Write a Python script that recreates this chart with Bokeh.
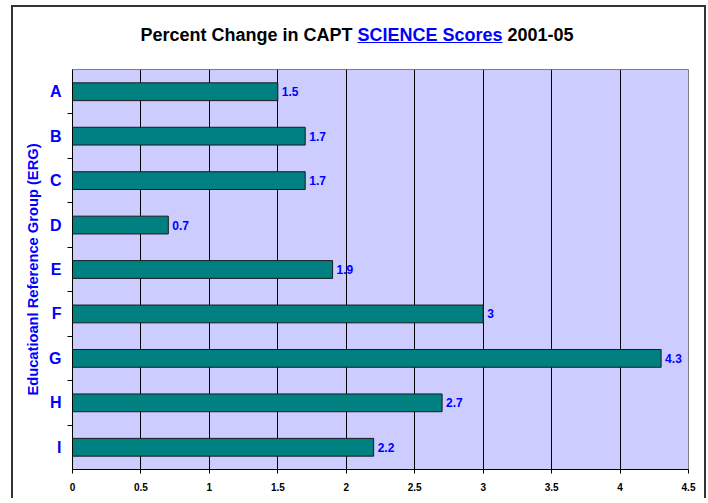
from bokeh.plotting import figure, ColumnDataSource
from bokeh.models import (Range1d, LinearAxis, FixedTicker, Div)
from bokeh.layouts import column
from bokeh.embed import file_html
from bokeh.resources import INLINE
from bokeh.core.properties import value

categories = ["A", "B", "C", "D", "E", "F", "G", "H", "I"]
values = [1.5, 1.7, 1.7, 0.7, 1.9, 3, 4.3, 2.7, 2.2]
x_ticks = [0, 0.5, 1, 1.5, 2, 2.5, 3, 3.5, 4, 4.5]
x_tick_labels = ["0", "0.5", "1", "1.5", "2", "2.5", "3", "3.5", "4", "4.5"]
title_parts = ["Percent Change in CAPT", "SCIENCE Scores", "2001-05"]
y_title = "Educatioanl Reference Group (ERG)"

FONT = "Liberation Sans"
BLUE = "#0000FF"

n = len(categories)
centers = [i + 0.5 for i in range(n)]          # category slots, A on top
bounds = [i for i in range(1, n)]               # slot boundaries

src = ColumnDataSource(dict(cat=categories, pos=centers, val=values,
                            label=[f"{v:g}" for v in values]))

p = figure(y_range=Range1d(n, 0),
           x_range=Range1d(x_ticks[0], x_ticks[-1]),
           frame_width=616, frame_height=400,
           min_border_left=59, min_border_right=16,
           min_border_top=22, min_border_bottom=29,
           y_axis_location=None,
           output_backend="svg", toolbar_location=None,
           background_fill_color="#CCCCFF", border_fill_color="white",
           outline_line_color="#808080")

# x axis
xa = p.xaxis[0]
xa.ticker = FixedTicker(ticks=x_ticks)
xa.major_label_overrides = {t: l for t, l in zip(x_ticks, x_tick_labels)}
xa.major_label_text_font = FONT
xa.major_label_text_font_style = "bold"
xa.major_label_text_font_size = "10px"
xa.major_label_text_color = "black"
xa.major_tick_out = 4
xa.major_tick_in = 0
xa.minor_tick_out = 0
xa.minor_tick_in = 0
xa.major_label_standoff = 9
xa.axis_line_color = "black"
xa.major_tick_line_color = "black"

p.xgrid.ticker = FixedTicker(ticks=x_ticks)
p.xgrid.grid_line_color = "black"
p.xgrid.grid_line_width = 1
p.ygrid.visible = False

# y axes: boundary ticks (inner) + category labels (outer)
tick_axis = LinearAxis(ticker=FixedTicker(ticks=bounds),
                       major_label_overrides={b: "" for b in bounds},
                       major_label_standoff=0,
                       major_tick_out=5, major_tick_in=0,
                       minor_tick_out=0, minor_tick_in=0,
                       axis_line_color="black", major_tick_line_color="black")
p.add_layout(tick_axis, "left")

cat_axis = LinearAxis(ticker=FixedTicker(ticks=centers),
                      major_label_overrides={c: k for c, k in zip(centers, categories)},
                      major_tick_out=0, major_tick_in=0,
                      minor_tick_out=0, minor_tick_in=0,
                      axis_line_color=None,
                      major_label_standoff=6,
                      major_label_text_font=FONT,
                      major_label_text_font_style="bold",
                      major_label_text_font_size="16px",
                      major_label_text_color=BLUE,
                      axis_label=y_title,
                      axis_label_text_font=FONT,
                      axis_label_text_font_style="bold",
                      axis_label_text_font_size="14.7px",
                      axis_label_text_color=BLUE,
                      axis_label_standoff=5)
p.add_layout(cat_axis, "left")

# bars
p.hbar(y="pos", right="val", left=0, height=0.4, source=src,
       fill_color="#008080", line_color="#1a1a1a", line_width=1)

# value labels
p.text(x="val", y="pos", text="label", source=src, x_offset=4,
       text_baseline="middle", text_align="left",
       text_font=value(FONT), text_font_style="bold",
       text_font_size="12px", text_color=BLUE)

# title: black / blue underlined / black
title_html = (
    f'<div style="width:688px;text-align:center;font-family:\'{FONT}\';'
    f'font-weight:bold;font-size:18px;color:black;padding-top:16px;">'
    f'{title_parts[0]} <u style="color:{BLUE};">{title_parts[1]}</u> {title_parts[2]}</div>'
)
title_div = Div(text=title_html, width=688, height=40,
                styles={"margin": "0", "padding": "0"})

layout = column(title_div, p, spacing=0)
layout.styles = {"margin-left": "11px", "margin-top": "5px",
                 "border-left": "2px solid #333333",
                 "border-top": "2px solid #333333",
                 "border-right": "2px solid #333333",
                 "background-color": "white"}

open("out.html", "w").write(file_html(layout, INLINE))
